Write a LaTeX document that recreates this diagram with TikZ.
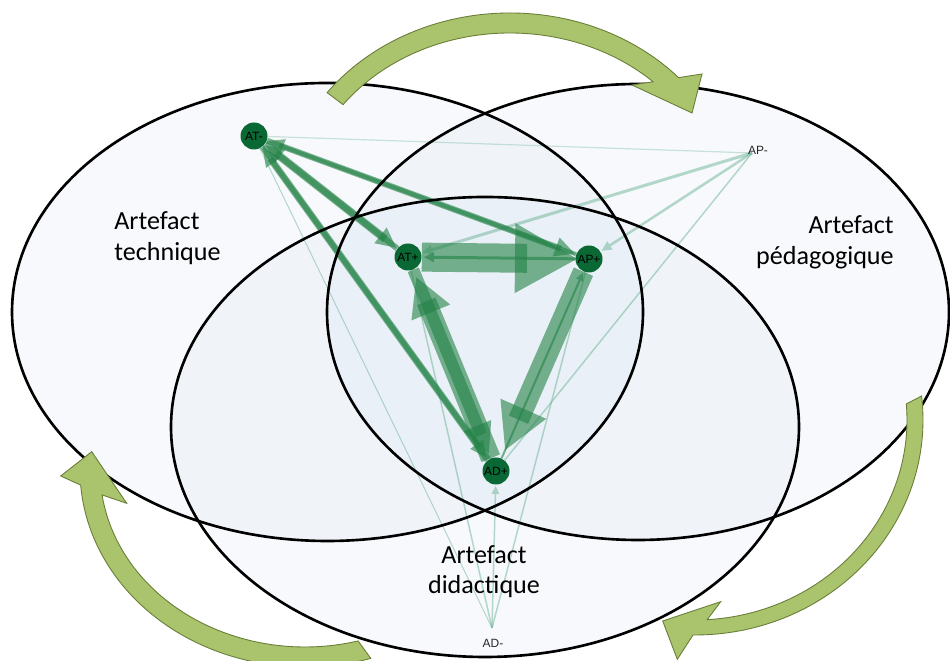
\documentclass[tikz,border=0pt]{standalone}
\usepackage{fontspec}
\setmainfont{Carlito}
\newfontfamily\lblfont{Liberation Sans}
\usetikzlibrary{calc}
\definecolor{ellfill}{RGB}{205,218,238}
\definecolor{edgegreen}{RGB}{35,130,70}
\definecolor{edgelight}{RGB}{110,180,150}
\definecolor{nodegreen}{RGB}{10,104,52}
\definecolor{cyclefill}{RGB}{169,196,108}
\definecolor{cycleline}{RGB}{105,125,55}
\pgfdeclarelayer{fills}
\pgfdeclarelayer{edges}
\pgfsetlayers{fills,edges,main}
% #1 style, #2 source, #3 target, #4 shaft width, #5 tip offset from target,
% #6 head length, #7 head half width, #8 shaft overlap into head
\newcommand\gedge[8]{%
  \coordinate (tp) at ($(#3)!#5!(#2)$);
  \coordinate (hb) at ($(tp)!#6!(#2)$);
  \draw[#1, line width=#4] (#2) -- ($(hb)!-#8!(#2)$);
  \fill[#1] (tp) -- ($(hb)!#7!90:(#2)$) -- ($(hb)!#7!-90:(#2)$) -- cycle;
}
\begin{document}
\begin{tikzpicture}[x=0.02cm,y=0.02cm,
  ell/.style={line width=1.5pt, draw=black},
  ellbg/.style={fill=ellfill, fill opacity=0.15},
  gnode/.style={circle, fill=nodegreen, minimum size=0.54cm, inner sep=0pt,
    font=\lblfont\fontsize{6.8}{8}\selectfont},
  gpoint/.style={inner sep=0pt, font=\lblfont\fontsize{6.8}{8}\selectfont, text=black!85},
  ge/.style={color=edgegreen, opacity=0.6},
  gl/.style={color=edgelight, opacity=0.5},
  lab/.style={inner sep=0pt, font=\fontsize{14.85}{18.7}\selectfont},
  cyc/.style={fill=cyclefill, draw=cycleline, line width=0.5pt, line join=miter}]

\useasboundingbox (0,0) rectangle (950,661);
\clip (0,0) rectangle (950,661);

% ellipse fills
\begin{pgfonlayer}{fills}
\fill[white] (0,0) rectangle (950,661);
\fill[ellbg] (327.5,349) ellipse [x radius=315.5, y radius=229];
\fill[ellbg] (638,349) ellipse [x radius=311, y radius=228];
\fill[ellbg] (485,234) ellipse [x radius=314, y radius=230];
\end{pgfonlayer}

% ellipse outlines
\draw[ell] (327.5,349) ellipse [x radius=315.5, y radius=229];
\draw[ell] (638,349) ellipse [x radius=311, y radius=228];
\draw[ell] (485,234) ellipse [x radius=314, y radius=230];

% graph nodes
\node[gnode] (ATm) at (254,525) {AT-};
\node[gnode] (ATp) at (408,404) {AT+};
\node[gnode] (APp) at (589,402) {AP+};
\node[gnode] (ADp) at (496,190) {AD+};
\coordinate (APm) at (752,508);
\coordinate (ADm) at (492,33);
\node[gpoint] (APmlbl) at (758,511) {AP-};
\node[gpoint] (ADmlbl) at (493,18) {AD-};

% edges
\begin{pgfonlayer}{edges}
% light edges
\draw[gl, line width=0.024cm, opacity=0.35] (APm) -- (ATm);
\gedge{gl}{APm}{ATp}{0.06cm}{0.3cm}{0.2cm}{0.1cm}{0cm}
\gedge{gl}{APm}{APp}{0.05cm}{0.3cm}{0.2cm}{0.1cm}{0cm}
\draw[gl, line width=0.03cm] (APm) -- (ADp);
\draw[gl, line width=0.02cm] (ADm) -- (ATm);
\draw[gl, line width=0.03cm] (ADm) -- (ATp);
\gedge{gl}{ADm}{ADp}{0.03cm}{0.3cm}{0.16cm}{0.08cm}{0cm}
\draw[gl, line width=0.03cm] (ADm) -- (APp);
% strong edges
\gedge{ge}{ATp}{APp}{0.58cm}{0.24cm}{1.24cm}{0.7cm}{0.24cm}
\gedge{ge}{APp}{ATp}{0.06cm}{0.32cm}{0.2cm}{0.1cm}{0cm}
\gedge{ge}{ADp}{ATp}{0.4cm}{0.44cm}{0.76cm}{0.42cm}{0.24cm}
\gedge{ge}{ATp}{ADp}{0.24cm}{0.38cm}{0.6cm}{0.3cm}{0.2cm}
\gedge{ge}{APp}{ADp}{0.42cm}{0.46cm}{0.9cm}{0.5cm}{0.24cm}
\gedge{ge}{ADp}{APp}{0.04cm}{0.3cm}{0.16cm}{0.08cm}{0cm}
\gedge{ge}{ATm}{ATp}{0.16cm}{0.3cm}{0.4cm}{0.2cm}{0.12cm}
\gedge{ge}{ATp}{ATm}{0.12cm}{0.3cm}{0.36cm}{0.18cm}{0.1cm}
\gedge{ge}{ATm}{APp}{0.12cm}{0.3cm}{0.4cm}{0.2cm}{0.1cm}
\gedge{ge}{APp}{ATm}{0.08cm}{0.3cm}{0.32cm}{0.16cm}{0.08cm}
\gedge{ge}{ADp}{ATm}{0.14cm}{0.3cm}{0.36cm}{0.18cm}{0.1cm}
\gedge{ge}{ATm}{ADp}{0.1cm}{0.34cm}{0.32cm}{0.16cm}{0.08cm}
\end{pgfonlayer}

% labels
\node[lab, anchor=base west] (tech1) at (114,431) {Artefact};
\node[lab, anchor=base west] (tech2) at (114,400) {technique};
\node[lab, anchor=base east] (peda1) at (894,427) {Artefact};
\node[lab, anchor=base east] (peda2) at (894,396) {pédagogique};
\node[lab, anchor=base] (dida1) at (484,97) {Artefact};
\node[lab, anchor=base] (dida2) at (484,67) {didactique};

% cycle arrows
\coordinate (ctop) at (510,448);
\coordinate (cbl) at (305,191);
\coordinate (cbr) at (695,241);
\filldraw[cyc] ($(ctop)+(143:229 and 200)$)
  arc[start angle=143, end angle=42.6, x radius=229, y radius=200]
  -- (702,587) -- (692,548) -- (632,576)
  -- ($(ctop)+(46.8:209 and 180)$)
  arc[start angle=46.8, end angle=143, x radius=209, y radius=180] -- cycle;
\filldraw[cyc] ($(cbl)+(287:225 and 197)$)
  arc[start angle=287, end angle=184.4, x radius=225, y radius=197]
  -- (60.7,185) -- (91.7,209.3) -- (126.7,157.7)
  -- ($(cbl)+(188.1:205 and 177)$)
  arc[start angle=188.1, end angle=285, x radius=205, y radius=177] -- cycle;
\filldraw[cyc] ($(cbr)+(4.6:212 and 200)$)
  arc[start angle=4.6, end angle=-86.7, x radius=212, y radius=200]
  -- (720.7,59.3) -- (662.7,40) -- (677.3,1.7)
  -- ($(cbr)+(-90.5:228 and 215)$)
  arc[start angle=-90.5, end angle=6.4, x radius=228, y radius=215] -- cycle;
\end{tikzpicture}
\end{document}
